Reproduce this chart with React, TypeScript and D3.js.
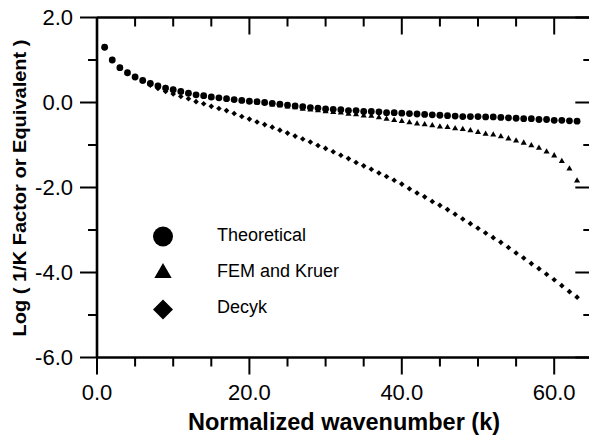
import React from 'react';
import * as d3 from 'd3';

// wavenumber index k = 1..63
const kValues = d3.range(1, 64);

const theoretical = [
  1.30, 1.00, 0.82, 0.70, 0.60, 0.52, 0.45, 0.39, 0.34, 0.30,
  0.26, 0.22, 0.18, 0.16, 0.13, 0.11, 0.09, 0.07, 0.05, 0.03,
  0.02, 0.00, -0.02, -0.04, -0.06, -0.08, -0.10, -0.12, -0.13, -0.15,
  -0.16, -0.17, -0.19, -0.19, -0.21, -0.21, -0.22, -0.24, -0.24, -0.25,
  -0.26, -0.27, -0.28, -0.29, -0.30, -0.31, -0.32, -0.33, -0.33, -0.33,
  -0.34, -0.34, -0.35, -0.36, -0.37, -0.38, -0.38, -0.40, -0.40, -0.42,
  -0.42, -0.43, -0.44,
];

const femKruer = [
  1.30, 1.00, 0.82, 0.70, 0.60, 0.52, 0.45, 0.39, 0.34, 0.30,
  0.25, 0.21, 0.17, 0.15, 0.12, 0.10, 0.08, 0.06, 0.04, 0.02,
  0.00, -0.02, -0.05, -0.07, -0.10, -0.12, -0.15, -0.17, -0.19, -0.21,
  -0.23, -0.24, -0.27, -0.28, -0.31, -0.32, -0.35, -0.39, -0.42, -0.44,
  -0.47, -0.50, -0.52, -0.54, -0.57, -0.58, -0.61, -0.63, -0.66, -0.70,
  -0.74, -0.76, -0.80, -0.85, -0.90, -0.95, -1.01, -1.07, -1.16, -1.25,
  -1.38, -1.56, -1.84,
];

const decyk = [
  1.30, 1.00, 0.82, 0.69, 0.59, 0.50, 0.41, 0.33, 0.26, 0.20,
  0.14, 0.09, 0.02, -0.03, -0.09, -0.14, -0.19, -0.26, -0.33, -0.39,
  -0.46, -0.52, -0.58, -0.65, -0.72, -0.79, -0.86, -0.93, -1.01, -1.08,
  -1.16, -1.24, -1.32, -1.41, -1.49, -1.57, -1.66, -1.74, -1.83, -1.92,
  -2.03, -2.13, -2.22, -2.33, -2.42, -2.52, -2.63, -2.74, -2.85, -2.96,
  -3.07, -3.18, -3.29, -3.41, -3.54, -3.66, -3.79, -3.91, -4.04, -4.17,
  -4.31, -4.45, -4.58,
];

const xMajorTicks = [0, 20, 40, 60];
const xMinorTicks = [5, 10, 15, 25, 30, 35, 45, 50, 55, 65];
const yMajorTicks = [2, 0, -2, -4, -6];
const yMinorTicks = [1, -1, -3, -5];

const legendNames = ['Theoretical', 'FEM and Kruer', 'Decyk'];

const W = 589;
const H = 439;
const font = 'Arial, "Liberation Sans", sans-serif';

export default function App() {
  const x = d3.scaleLinear().domain([0, 65]).range([97, 97 + 65 * 7.62]);
  const y = d3.scaleLinear().domain([-6, 2]).range([357.5, 17.5]);

  const left = x(0);
  const right = x(65);
  const top = y(2);
  const bottom = y(-6);

  const sym = (type: d3.SymbolType, size: number) => d3.symbol().type(type).size(size)() as string;
  const diamondPath = (s: number) => `M0,${-s}L${s},0L0,${s}L${-s},0Z`;

  const triPath = sym(d3.symbolTriangle, 16);
  const legendTri = sym(d3.symbolTriangle, 130);

  return (
    <svg width={W} height={H} style={{ position: 'absolute', left: 0, top: 0, background: '#fff' }} fontFamily={font}>
      <rect width={W} height={H} fill="#fff" />

      {/* marks */}
      <g fill="#000">
        {decyk.map((v, i) => (
          <path key={'d' + i} d={diamondPath(2.8)} transform={`translate(${x(kValues[i])},${y(v)})`} />
        ))}
        {femKruer.map((v, i) => (
          <path key={'t' + i} d={triPath} transform={`translate(${x(kValues[i])},${y(v)})`} />
        ))}
        {theoretical.map((v, i) => (
          <circle key={'c' + i} cx={x(kValues[i])} cy={y(v)} r={3.4} />
        ))}
      </g>

      {/* frame: the right edge falls just outside the picture */}
      <g stroke="#000" strokeWidth={2.6} fill="none">
        <line x1={left} x2={right} y1={top} y2={top} />
        <line x1={left} x2={right} y1={bottom} y2={bottom} />
        <line x1={left} x2={left} y1={top} y2={bottom} />
      </g>

      {/* ticks */}
      <g stroke="#000" strokeWidth={2}>
        {xMajorTicks.map((t) => (
          <g key={'xM' + t}>
            <line x1={x(t)} x2={x(t)} y1={bottom} y2={bottom + 17} />
            <line x1={x(t)} x2={x(t)} y1={top} y2={top + 17} />
          </g>
        ))}
        {xMinorTicks.map((t) => (
          <g key={'xm' + t}>
            <line x1={x(t)} x2={x(t)} y1={bottom} y2={bottom + 9} />
            <line x1={x(t)} x2={x(t)} y1={top} y2={top + 9} />
          </g>
        ))}
        {yMajorTicks.map((t) => (
          <g key={'yM' + t}>
            <line x1={left - 17} x2={left} y1={y(t)} y2={y(t)} />
            <line x1={right - 17} x2={right} y1={y(t)} y2={y(t)} />
          </g>
        ))}
        {yMinorTicks.map((t) => (
          <g key={'ym' + t}>
            <line x1={left - 9} x2={left} y1={y(t)} y2={y(t)} />
            <line x1={right - 9} x2={right} y1={y(t)} y2={y(t)} />
          </g>
        ))}
      </g>

      {/* tick labels */}
      <g fontSize={22} fill="#000">
        {yMajorTicks.map((t) => (
          <text key={'yl' + t} x={73} y={y(t)} dy="0.36em" textAnchor="end">
            {t.toFixed(1)}
          </text>
        ))}
        {xMajorTicks.map((t) => (
          <text key={'xl' + t} x={x(t)} y={400} textAnchor="middle">
            {t.toFixed(1)}
          </text>
        ))}
      </g>

      {/* axis titles */}
      <text x={344} y={430} textAnchor="middle" fontSize={23.5} fontWeight="bold">
        Normalized wavenumber (k)
      </text>
      <text
        transform="translate(26,188) rotate(-90)"
        textAnchor="middle"
        fontSize={17.5}
        fontWeight="bold"
        textLength={297}
        lengthAdjust="spacingAndGlyphs"
      >
        Log ( 1/K Factor or Equivalent )
      </text>

      {/* legend */}
      <g fill="#000">
        <circle cx={163} cy={236.5} r={10} />
        <path d={legendTri} transform="translate(163,273)" />
        <path d={diamondPath(10)} transform="translate(163,309.5)" />
        {legendNames.map((n, i) => (
          <text key={n} x={217} y={[241, 277, 313][i]} fontSize={18}>
            {n}
          </text>
        ))}
      </g>
    </svg>
  );
}
